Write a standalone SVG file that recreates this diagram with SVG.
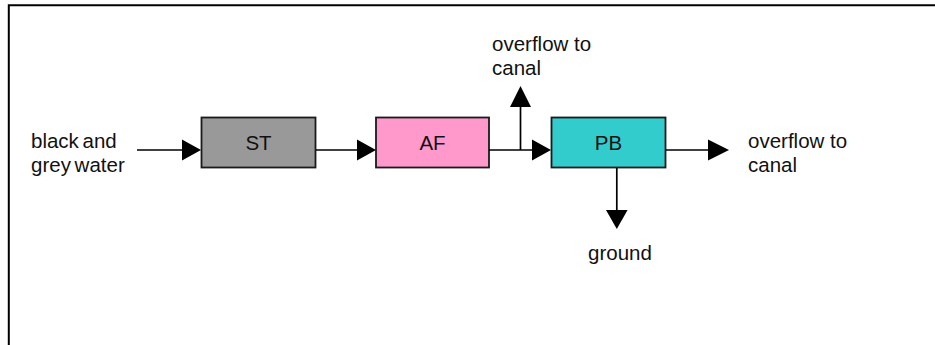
<svg xmlns="http://www.w3.org/2000/svg" width="935" height="345" viewBox="0 0 935 345">
  <style>
    .frame { fill: none; stroke: #000; stroke-width: 2; }
    .box { stroke: #1a1a1a; stroke-width: 1.8; }
    .line { fill: none; stroke: #000; stroke-width: 1.7; }
    .head { fill: #000; }
    text { font-family: "Liberation Sans", Arial, sans-serif; font-size: 20.5px; fill: #111; }
    .c { text-anchor: middle; }
  </style>

  <!-- outer frame (open to the right and bottom) -->
  <path class="frame" d="M8.8,345 V5.2 H935"/>

  <!-- process units -->
  <g id="ST">
    <rect class="box" x="201.5" y="117.5" width="114" height="50" fill="#999999"/>
    <text class="c" x="258.5" y="150">ST</text>
  </g>
  <g id="AF">
    <rect class="box" x="376" y="117.5" width="113" height="50" fill="#ff99cc"/>
    <text class="c" x="432.5" y="150">AF</text>
  </g>
  <g id="PB">
    <rect class="box" x="551.5" y="117.5" width="114" height="50" fill="#33cccc"/>
    <text class="c" x="608.5" y="150">PB</text>
  </g>

  <!-- labels -->
  <g id="inflow">
    <text x="31" y="148" word-spacing="-2">black and</text>
    <text x="31" y="171.5" word-spacing="-2">grey water</text>
  </g>
  <g id="overflow-top">
    <text x="492" y="51">overflow to</text>
    <text x="492" y="74.5">canal</text>
  </g>
  <g id="overflow-right">
    <text x="748" y="148">overflow to</text>
    <text x="748" y="171.5">canal</text>
  </g>
  <g id="ground">
    <text x="588" y="259.5">ground</text>
  </g>

  <!-- flows -->
  <g id="connectors">
    <path class="line" d="M137,150 H184"/>
    <path class="head" d="M201,150 L182,139.5 V160.5 Z"/>

    <path class="line" d="M316,150 H359"/>
    <path class="head" d="M376,150 L357,139.5 V160.5 Z"/>

    <path class="line" d="M489,150 H534"/>
    <path class="head" d="M551,150 L532,139.5 V160.5 Z"/>

    <path class="line" d="M520.5,150 V104"/>
    <path class="head" d="M520.5,86 L510,107 H531 Z"/>

    <path class="line" d="M666,150 H710"/>
    <path class="head" d="M729,150 L708,139.5 V160.5 Z"/>

    <path class="line" d="M616.8,168 V212"/>
    <path class="head" d="M616.8,229 L606,210 H627.6 Z"/>
  </g>
</svg>
